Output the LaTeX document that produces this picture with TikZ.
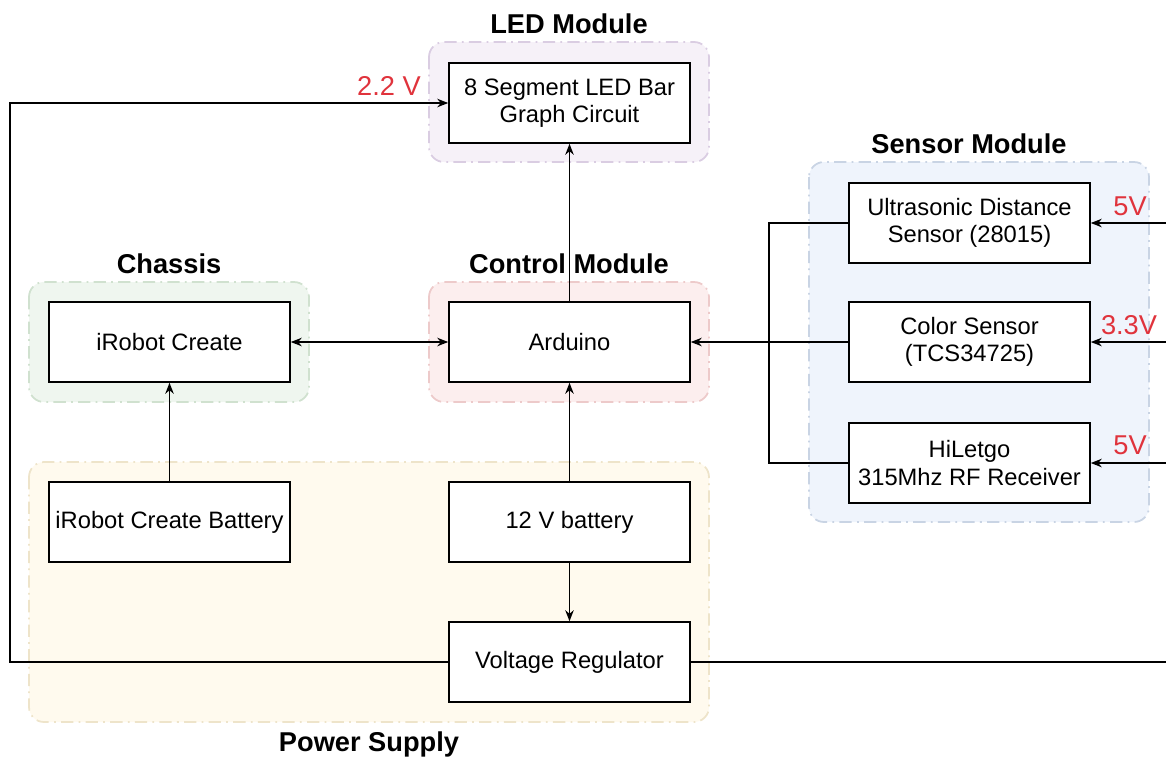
\documentclass[tikz,border=0pt]{standalone}
\usepackage{fontspec}
\setmainfont{Liberation Sans}
\usepackage{xcolor}
\usepackage{tikz}
\usetikzlibrary{arrows.meta,positioning,calc}

\definecolor{ledfill}{HTML}{F6F1F8}
\definecolor{leddraw}{HTML}{DACDE2}
\definecolor{chfill}{HTML}{EFF6EF}
\definecolor{chdraw}{HTML}{D0E1CF}
\definecolor{ctfill}{HTML}{FCEEEE}
\definecolor{ctdraw}{HTML}{EDCACA}
\definecolor{snfill}{HTML}{EFF4FC}
\definecolor{sndraw}{HTML}{C9D4E4}
\definecolor{pwfill}{HTML}{FFFAEE}
\definecolor{pwdraw}{HTML}{EEE4CA}
\definecolor{voltred}{HTML}{E0333C}

\begin{document}
\begin{tikzpicture}[x=0.02cm,y=-0.02cm,>={Stealth[length=2.2mm,width=1.7mm]},
  blk/.style={draw,line width=0.9pt,fill=white,minimum width=4.82cm,minimum height=1.6cm,
    align=center,font=\fontsize{13.5}{15.5}\selectfont},
  grp/.style={rounded corners=3mm,line width=1pt,
    dash pattern=on 7pt off 3pt on 1pt off 3pt},
  ttl/.style={font=\fontsize{15.5}{18}\selectfont\bfseries},
  volt/.style={text=voltred,font=\fontsize{15.5}{18}\selectfont},
  wire/.style={line width=0.9pt}]
  \clip (0,0) rectangle (1166,762);
  % module groups
  \draw[grp,draw=leddraw,fill=ledfill] (429,42) rectangle (709,162);
  \draw[grp,draw=chdraw,fill=chfill] (29,282) rectangle (309,402);
  \draw[grp,draw=ctdraw,fill=ctfill] (429,282) rectangle (709,402);
  \draw[grp,draw=sndraw,fill=snfill] (809,162) rectangle (1149,522);
  \draw[grp,draw=pwdraw,fill=pwfill] (29,462) rectangle (709,722);
  \node[ttl] (tled) at (569,24) {LED Module};
  \node[ttl] (tch) at (169,264) {Chassis};
  \node[ttl] (tct) at (569,264) {Control Module};
  \node[ttl] (tsn) at (969,144) {Sensor Module};
  \node[ttl] (tpw) at (369,744) {Power Supply};
  % blocks
  \node[blk] (led) at (569.5,103) {8 Segment LED Bar\\Graph Circuit};
  \node[blk] (ard) at (569.5,342) {Arduino};
  \node[blk] (irc) at (169.5,342) {iRobot Create};
  \node[blk] (bat) at (169.5,522) {iRobot Create Battery};
  \node[blk] (b12) at (569.5,522) {12 V battery};
  \node[blk] (vr) at (569.5,662) {Voltage Regulator};
  \node[blk] (us) at (969.5,223) {Ultrasonic Distance\\Sensor (28015)};
  \node[blk] (cs) at (969.5,342) {Color Sensor\\(TCS34725)};
  \node[blk] (rf) at (969.5,463) {HiLetgo\\315Mhz RF Receiver};
  % supply levels
  \node[volt] (v22) at (389,86) {2.2 V};
  \node[volt] (v5a) at (1130,206) {5V};
  \node[volt] (v33) at (1129,325) {3.3V};
  \node[volt] (v5b) at (1130,445) {5V};
  % wiring
  \coordinate (lft) at (10,103);
  \coordinate (rgt) at (1175,223);
  \coordinate (bus) at (769,223);
  \draw[wire,->] (vr.west) -| (lft) -- (led.west);
  \draw[wire] (vr.east) -| (rgt);
  \draw[wire,->] (rgt) -- (us.east);
  \draw[wire,->] (rgt |- cs.east) -- (cs.east);
  \draw[wire,->] (rgt |- rf.east) -- (rf.east);
  \draw[wire] (us.west) -| (bus |- rf.west) -- (rf.west);
  \draw[wire,->] (cs.west) -- (ard.east);
  \draw[wire,->] (ard) -- (led);
  \draw[wire,<->] (irc) -- (ard);
  \draw[wire,->] (bat) -- (irc);
  \draw[wire,->] (b12) -- (ard);
  \draw[wire,->] (b12) -- (vr);
\end{tikzpicture}
\end{document}
